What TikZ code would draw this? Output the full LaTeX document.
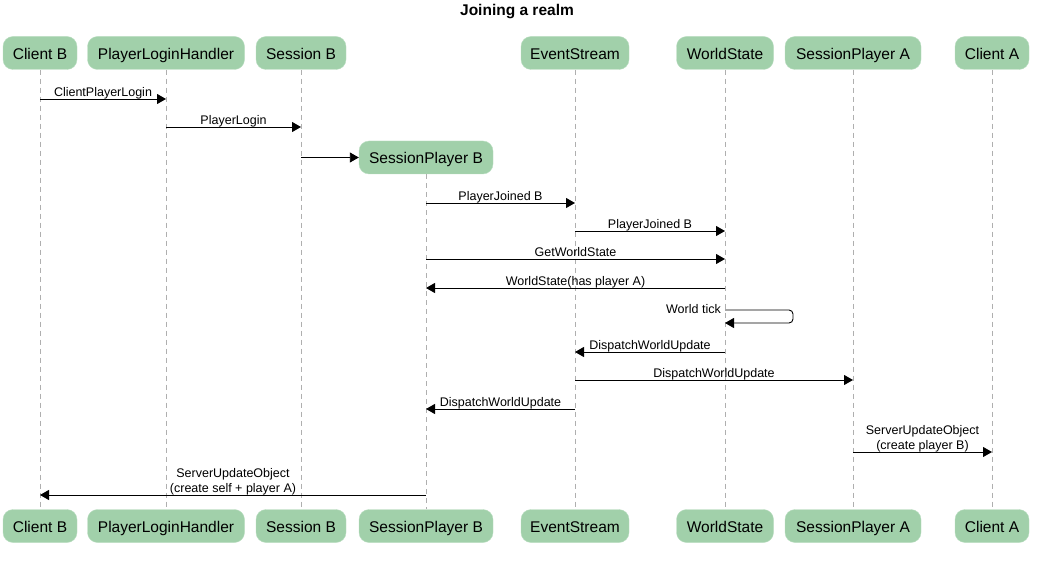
\documentclass[tikz,border=0pt]{standalone}
\usepackage{fontspec}
\setmainfont{Liberation Sans}
\usetikzlibrary{arrows.meta, positioning}
\definecolor{actorgreen}{RGB}{161,208,170}
\definecolor{actorline}{RGB}{186,222,193}
\definecolor{lifegray}{RGB}{175,175,175}

\begin{document}
\begin{tikzpicture}[x=1pt, y=-1pt,
    actor/.style={draw=actorline, fill=actorgreen, rounded corners=10pt,
      minimum height=33pt, inner xsep=0pt, text height=14pt, text depth=1pt,
      font=\fontsize{15.5}{17}\selectfont},
    lifeline/.style={draw=lifegray, dash pattern=on 5pt off 4pt, line width=0.8pt},
    msg/.style={-{Triangle[length=9pt, width=10pt]}, line width=0.9pt},
    lbl/.style={font=\fontsize{12.5}{14.5}\selectfont, inner sep=0pt, text depth=2.5pt, align=center}]
  \useasboundingbox (0,0) rectangle (1040,561);
  % Title
  \node[font=\bfseries\fontsize{15.5}{17}\selectfont] (title) at (517,12) {Joining a realm};
  % Participants (top)
  \node[actor, minimum width=74pt] (cbTop) at (40,53) {Client B};
  \node[actor, minimum width=157pt] (plhTop) at (166,53) {PlayerLoginHandler};
  \node[actor, minimum width=90pt] (sbTop) at (301,53) {Session B};
  \node[actor, minimum width=134pt] (spbTop) at (426,157.5) {SessionPlayer B};
  \node[actor, minimum width=108pt] (esTop) at (575,53) {EventStream};
  \node[actor, minimum width=97pt] (wsTop) at (725,53) {WorldState};
  \node[actor, minimum width=136pt] (spaTop) at (853,53) {SessionPlayer A};
  \node[actor, minimum width=74pt] (caTop) at (992,53) {Client A};
  % Participants (bottom)
  \node[actor, minimum width=74pt] (cbBot) at (40,526) {Client B};
  \node[actor, minimum width=157pt] (plhBot) at (166,526) {PlayerLoginHandler};
  \node[actor, minimum width=90pt] (sbBot) at (301,526) {Session B};
  \node[actor, minimum width=134pt] (spbBot) at (426,526) {SessionPlayer B};
  \node[actor, minimum width=108pt] (esBot) at (575,526) {EventStream};
  \node[actor, minimum width=97pt] (wsBot) at (725,526) {WorldState};
  \node[actor, minimum width=136pt] (spaBot) at (853,526) {SessionPlayer A};
  \node[actor, minimum width=74pt] (caBot) at (992,526) {Client A};
  % Lifelines
  \draw[lifeline] (cbTop) -- (cbBot);
  \draw[lifeline] (plhTop) -- (plhBot);
  \draw[lifeline] (sbTop) -- (sbBot);
  \draw[lifeline] (spbTop) -- (spbBot);
  \draw[lifeline] (esTop) -- (esBot);
  \draw[lifeline] (wsTop) -- (wsBot);
  \draw[lifeline] (spaTop) -- (spaBot);
  \draw[lifeline] (caTop) -- (caBot);
  % Login
  \draw[msg] (cbTop |- 0,99) -- node[lbl, above] {ClientPlayerLogin} (plhTop |- 0,99);
  \draw[msg] (plhTop |- 0,127) -- node[lbl, above] {PlayerLogin} (sbTop |- 0,127);
  \draw[msg] (sbTop |- spbTop) -- (spbTop.west);
  % Joining
  \draw[msg] (spbTop |- 0,203) -- node[lbl, above] {PlayerJoined B} (esTop |- 0,203);
  \draw[msg] (esTop |- 0,231) -- node[lbl, above] {PlayerJoined B} (wsTop |- 0,231);
  \draw[msg] (spbTop |- 0,259) -- node[lbl, above] {GetWorldState} (wsTop |- 0,259);
  \draw[msg] (wsTop |- 0,288) -- node[lbl, above] {WorldState(has player A)} (spbTop |- 0,288);
  % World tick
  \draw[msg, rounded corners=4pt] (wsTop |- 0,310) -- ++(68,0) -- ++(0,13) -- (wsTop |- 0,323);
  \node[lbl, anchor=east] (tick) at ([xshift=-4pt]wsTop |- 0,310) {World tick};
  % Dispatch
  \draw[msg] (wsTop |- 0,352) -- node[lbl, above] {DispatchWorldUpdate} (esTop |- 0,352);
  \draw[msg] (esTop |- 0,380) -- node[lbl, above] {DispatchWorldUpdate} (spaTop |- 0,380);
  \draw[msg] (esTop |- 0,409) -- node[lbl, above] {DispatchWorldUpdate} (spbTop |- 0,409);
  % Update objects
  \draw[msg] (spaTop |- 0,452) -- node[lbl, above] {ServerUpdateObject\\(create player B)} (caTop |- 0,452);
  \draw[msg] (spbTop |- 0,495) -- node[lbl, above] {ServerUpdateObject\\(create self + player A)} (cbTop |- 0,495);
\end{tikzpicture}
\end{document}
